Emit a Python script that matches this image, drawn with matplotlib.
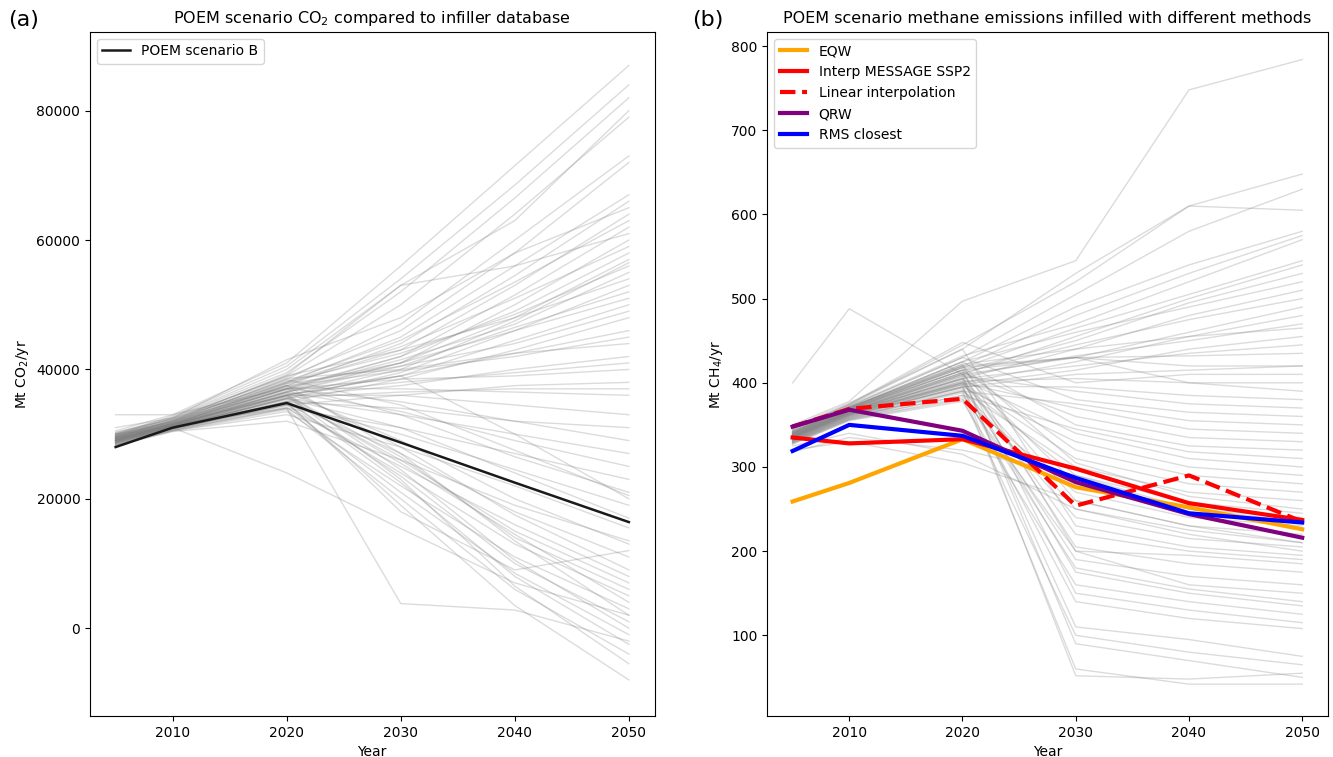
import numpy as np
import matplotlib.pyplot as plt

years = [2005, 2010, 2020, 2030, 2040, 2050]

# POEM scenario B, CO2 (Mt CO2/yr)
poem_co2 = [28000, 31000, 34800, 28700, 22500, 16400]

# infiller database CO2 scenarios, values in Gt CO2/yr (x1000 -> Mt)
db_co2 = [
    [30.5, 33.0, 41.0, 56.0, 71.5, 87.0],
    [30.0, 32.8, 40.5, 54.0, 68.5, 84.0],
    [29.8, 32.5, 39.5, 52.0, 66.5, 82.0],
    [30.2, 32.6, 40.0, 53.0, 63.0, 80.0],
    [29.5, 32.2, 39.0, 50.0, 64.0, 79.0],
    [29.6, 32.0, 38.5, 47.0, 60.0, 73.0],
    [30.0, 32.4, 38.8, 46.0, 58.0, 72.0],
    [29.4, 31.8, 38.0, 45.0, 56.0, 67.0],
    [29.2, 31.6, 37.5, 44.0, 54.5, 66.0],
    [29.0, 31.5, 37.8, 43.0, 53.0, 64.0],
    [30.3, 32.3, 38.2, 44.5, 53.5, 63.0],
    [29.1, 31.4, 37.0, 42.0, 51.5, 62.0],
    [29.7, 32.1, 39.2, 53.0, 56.0, 61.0],
    [28.8, 31.2, 36.5, 41.0, 50.0, 60.0],
    [29.9, 32.2, 38.0, 43.5, 51.0, 59.0],
    [29.3, 31.7, 37.2, 42.0, 49.0, 58.0],
    [29.0, 31.3, 36.8, 41.0, 48.0, 57.0],
    [28.9, 31.2, 36.0, 40.0, 47.5, 56.5],
    [29.6, 31.9, 38.0, 42.5, 48.5, 56.0],
    [29.2, 31.5, 37.0, 41.5, 47.0, 55.0],
    [30.1, 32.4, 39.0, 43.0, 48.0, 54.0],
    [28.7, 31.0, 35.5, 39.5, 46.0, 53.0],
    [29.4, 31.6, 36.5, 40.5, 46.5, 52.0],
    [29.8, 32.0, 37.5, 41.0, 46.0, 51.0],
    [29.0, 31.2, 36.0, 39.0, 44.5, 50.0],
    [29.5, 31.8, 37.8, 40.5, 44.0, 49.0],
    [28.6, 30.9, 35.0, 38.5, 43.0, 48.0],
    [29.1, 31.4, 36.6, 39.0, 42.5, 46.0],
    [29.3, 31.5, 37.4, 39.8, 42.0, 45.0],
    [30.0, 32.0, 38.6, 40.0, 42.5, 44.0],
    [28.8, 31.0, 35.8, 37.5, 40.0, 42.0],
    [29.2, 31.3, 36.2, 38.0, 39.5, 41.0],
    [29.6, 31.7, 37.0, 38.5, 39.0, 40.0],
    [28.5, 30.8, 34.5, 36.0, 37.5, 38.0],
    [29.0, 31.1, 35.6, 36.5, 37.0, 37.0],
    [33.0, 33.0, 37.1, 37.0, 36.5, 36.0],
    [29.1, 31.2, 36.0, 36.0, 34.5, 33.0],
    [28.7, 30.9, 35.0, 34.0, 32.0, 31.0],
    [29.5, 31.6, 37.0, 35.0, 32.0, 29.0],
    [28.9, 31.0, 35.5, 33.0, 30.0, 27.0],
    [29.3, 31.4, 36.5, 33.5, 29.0, 25.0],
    [28.4, 30.6, 34.0, 31.0, 27.0, 23.0],
    [29.7, 31.8, 37.5, 33.0, 26.5, 21.0],
    [28.6, 30.8, 34.5, 30.0, 24.5, 19.0],
    [29.0, 31.1, 35.5, 31.0, 24.0, 17.0],
    [28.3, 30.5, 33.0, 28.0, 22.0, 15.5],
    [29.4, 31.5, 36.0, 39.0, 30.0, 20.0],
    [29.2, 31.3, 36.5, 29.0, 20.0, 13.0],
    [28.8, 31.0, 35.0, 27.0, 18.0, 11.0],
    [29.6, 31.7, 37.0, 28.0, 17.5, 9.0],
    [28.5, 30.7, 34.0, 25.0, 16.0, 8.0],
    [29.0, 31.2, 35.5, 26.0, 15.0, 7.0],
    [29.4, 31.5, 36.0, 26.5, 14.0, 6.0],
    [28.7, 30.9, 34.5, 24.0, 13.0, 5.0],
    [29.1, 31.3, 35.8, 25.5, 14.5, 4.0],
    [28.3, 30.5, 33.5, 22.0, 11.0, 3.0],
    [29.8, 31.9, 37.5, 27.0, 13.5, 2.0],
    [28.9, 31.0, 35.0, 23.5, 10.0, 1.0],
    [29.3, 31.4, 36.3, 24.5, 10.5, 0.0],
    [28.6, 30.8, 34.2, 21.0, 8.5, -1.0],
    [29.0, 31.2, 35.3, 22.5, 8.0, -2.5],
    [28.4, 30.6, 33.8, 20.0, 6.0, -4.0],
    [29.5, 31.6, 36.0, 23.0, 6.5, -5.5],
    [28.8, 30.9, 34.8, 19.0, 3.5, -8.0],
    [29.2, 31.3, 35.0, 18.0, 9.0, 12.0],
    [30.0, 31.0, 24.0, 15.4, 7.0, 2.0],
    [29.0, 31.5, 34.0, 3.8, 2.8, -2.0],
    [31.0, 32.5, 41.5, 48.0, 58.0, 65.0],
    [28.2, 30.4, 32.0, 26.0, 19.0, 13.5],
    [29.9, 32.0, 38.4, 34.5, 27.5, 20.5],
]

# infiller database CH4 scenarios (Mt CH4/yr)
db_ch4 = [
    [350, 378, 497, 545, 748, 784],
    [348, 376, 440, 530, 610, 648],
    [342, 372, 430, 505, 580, 630],
    [346, 374, 445, 520, 610, 605],
    [340, 370, 425, 490, 540, 580],
    [338, 368, 420, 480, 530, 575],
    [344, 373, 432, 470, 520, 570],
    [341, 370, 418, 465, 505, 545],
    [336, 366, 410, 455, 500, 540],
    [339, 369, 415, 450, 495, 530],
    [343, 371, 425, 460, 490, 520],
    [335, 364, 405, 440, 480, 510],
    [337, 367, 412, 445, 475, 500],
    [340, 370, 420, 430, 460, 490],
    [334, 363, 400, 425, 455, 480],
    [338, 366, 408, 432, 450, 470],
    [342, 371, 422, 440, 455, 465],
    [333, 362, 398, 415, 440, 455],
    [336, 365, 405, 420, 435, 445],
    [339, 368, 415, 430, 432, 435],
    [400, 488, 410, 430, 420, 420],
    [331, 360, 395, 410, 415, 420],
    [345, 375, 448, 400, 410, 410],
    [335, 364, 402, 405, 400, 400],
    [340, 369, 418, 430, 400, 390],
    [332, 361, 396, 395, 385, 380],
    [337, 366, 408, 390, 375, 370],
    [343, 372, 430, 380, 365, 360],
    [330, 358, 390, 375, 355, 350],
    [334, 363, 400, 370, 345, 340],
    [338, 367, 412, 360, 335, 330],
    [341, 370, 425, 350, 325, 320],
    [329, 357, 385, 345, 318, 310],
    [336, 365, 404, 340, 310, 300],
    [332, 361, 395, 330, 300, 290],
    [339, 368, 415, 320, 290, 280],
    [335, 364, 400, 310, 280, 270],
    [330, 359, 390, 300, 270, 260],
    [342, 371, 420, 305, 265, 250],
    [333, 362, 398, 290, 258, 245],
    [337, 366, 410, 280, 250, 240],
    [328, 356, 380, 270, 240, 230],
    [340, 369, 418, 260, 230, 220],
    [334, 363, 400, 250, 225, 210],
    [331, 360, 392, 240, 215, 205],
    [345, 374, 440, 230, 205, 195],
    [336, 365, 405, 220, 200, 190],
    [329, 357, 385, 200, 195, 185],
    [338, 367, 412, 205, 185, 175],
    [333, 362, 395, 190, 170, 160],
    [341, 370, 422, 200, 160, 150],
    [330, 358, 388, 180, 155, 140],
    [335, 364, 402, 175, 150, 135],
    [327, 355, 378, 160, 140, 125],
    [339, 368, 415, 150, 130, 115],
    [332, 361, 394, 140, 120, 108],
    [336, 365, 406, 110, 95, 75],
    [328, 356, 382, 100, 80, 65],
    [334, 363, 398, 52, 48, 55],
    [331, 359, 390, 60, 42, 42],
    [337, 366, 410, 90, 70, 50],
    [320, 330, 305, 260, 230, 210],
    [325, 340, 315, 250, 220, 200],
    [318, 335, 320, 290, 250, 235],
]

# infilled POEM methane (Mt CH4/yr)
eqw = [259, 281, 333, 276, 252, 226]
interp_ssp2 = [335, 328, 333, 298, 257, 237]
linear_interp = [348, 369, 381, 254, 290, 235]
qrw = [348, 368, 343, 282, 244, 216]
rms_closest = [319, 350, 337, 287, 245, 234]

plt.rcParams['font.family'] = 'DejaVu Sans'
plt.rcParams['font.size'] = 10

fig = plt.figure(figsize=(13.33, 7.57), dpi=100)
ax1 = fig.add_axes([0.0675, 0.054, 0.4235, 0.904])
ax2 = fig.add_axes([0.5755, 0.054, 0.4205, 0.904])

# (a) CO2
for s in db_co2:
    ax1.plot(years, np.array(s) * 1000, color='grey', alpha=0.28, lw=1)
ax1.plot(years, poem_co2, color='#1a1a1a', lw=1.8, label='POEM scenario B')
ax1.set_xlim(2002.75, 2052.25)
ax1.set_ylim(-13600, 92200)
ax1.set_xticks([2010, 2020, 2030, 2040, 2050])
ax1.set_yticks([0, 20000, 40000, 60000, 80000])
ax1.set_xlabel('Year')
ax1.set_ylabel('Mt CO$_2$/yr')
ax1.set_title('POEM scenario CO$_2$ compared to infiller database', fontsize=11.5)
ax1.legend(loc='upper left')

# (b) CH4
for s in db_ch4:
    ax2.plot(years, s, color='grey', alpha=0.28, lw=1)
ax2.plot(years, eqw, color='orange', lw=3, label='EQW')
ax2.plot(years, interp_ssp2, color='red', lw=3, label='Interp MESSAGE SSP2')
ax2.plot(years, linear_interp, color='red', lw=3, ls='--', label='Linear interpolation')
ax2.plot(years, qrw, color='purple', lw=3, label='QRW')
ax2.plot(years, rms_closest, color='blue', lw=3, label='RMS closest')
ax2.set_xlim(2002.75, 2052.25)
ax2.set_ylim(4, 817)
ax2.set_xticks([2010, 2020, 2030, 2040, 2050])
ax2.set_yticks([100, 200, 300, 400, 500, 600, 700, 800])
ax2.set_xlabel('Year')
ax2.set_ylabel('Mt CH$_4$/yr')
ax2.set_title('POEM scenario methane emissions infilled with different methods', fontsize=11.5)
ax2.legend(loc='upper left')

fig.text(0.006, 0.965, '(a)', fontsize=16)
fig.text(0.519, 0.965, '(b)', fontsize=16)

fig.savefig('out.png', dpi=100)
